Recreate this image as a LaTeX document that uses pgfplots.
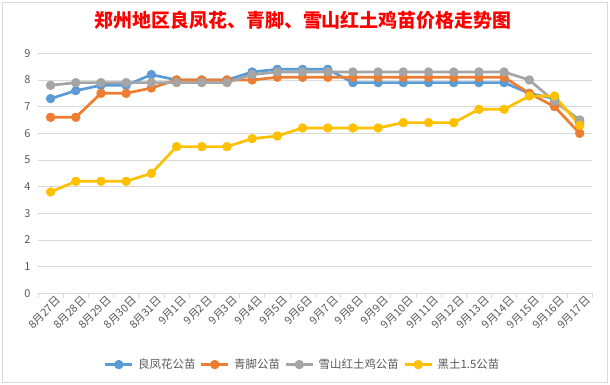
\documentclass[border=0pt]{standalone}
\usepackage{pgfplots}
\pgfplotsset{compat=1.18}
\usepackage{fontspec}
\setmainfont{Noto Sans CJK SC}
\definecolor{cblue}{HTML}{5B9BD5}
\definecolor{corange}{HTML}{ED7D31}
\definecolor{cgray}{HTML}{A5A5A5}
\definecolor{cyellow}{HTML}{FFC000}
\definecolor{gridc}{HTML}{D9D9D9}
\definecolor{labc}{HTML}{595959}
\begin{document}
\begin{tikzpicture}
\path[use as bounding box] (0bp,0bp) rectangle (610bp,385bp);
\draw[color=gridc, line width=0.8bp] (2.5bp,3bp) rectangle (607.5bp,382.5bp);
\node[font=\fontsize{19}{22}\selectfont\bfseries, text=red] at (303bp,365bp) {郑州地区良凤花、青脚、雪山红土鸡苗价格走势图};
\begin{axis}[
  at={(38bp,91.7bp)}, anchor=south west,
  scale only axis, width=554.3bp, height=240bp,
  xmin=-0.5, xmax=21.5, ymin=0, ymax=9,
  axis x line*=bottom, axis y line*=left,
  y axis line style={draw=none},
  x axis line style={draw=gridc, line width=0.8bp, -},
  ymajorgrids, grid style={draw=gridc, line width=0.8bp},
  xtick={0,...,21},
  xticklabels={8月27日,8月28日,8月29日,8月30日,8月31日,9月1日,9月2日,9月3日,9月4日,9月5日,9月6日,9月7日,9月8日,9月9日,9月10日,9月11日,9月12日,9月13日,9月14日,9月15日,9月16日,9月17日},
  minor xtick={-0.5,0.5,...,21.5},
  ytick={0,...,9},
  major tick length=0pt, minor tick length=5bp,
  tick align=outside,
  minor tick style={draw=gridc, line width=0.8bp},
  xticklabel style={rotate=45, anchor=north east, font=\fontsize{11}{13}\selectfont, text=labc, inner sep=0.5bp, yshift=-4bp, xshift=3bp},
  yticklabel style={font=\fontsize{11}{13}\selectfont, text=labc, xshift=-4bp},
  /pgf/number format/assume math mode=true,
  clip=false,
  every axis plot/.append style={line width=2.7bp, mark=*, mark size=3.3bp, line join=round, mark options={solid}},
  legend columns=4,
  legend style={at={(0.477,-0.297)}, anchor=center, draw=none, fill=none, font=\fontsize{11.5}{13}\selectfont, text=labc, column sep=3bp, inner sep=0bp, nodes={inner sep=1.5bp}},
  legend image code/.code={\draw[mark repeat=2,mark phase=2,#1] plot coordinates {(0bp,0bp) (13.5bp,0bp) (27bp,0bp)};},
]
\addplot[color=cblue] coordinates {(0,7.3)(1,7.6)(2,7.8)(3,7.8)(4,8.2)(5,8.0)(6,8.0)(7,8.0)(8,8.3)(9,8.4)(10,8.4)(11,8.4)(12,7.9)(13,7.9)(14,7.9)(15,7.9)(16,7.9)(17,7.9)(18,7.9)(19,7.5)(20,7.3)(21,6.4)};
\addlegendentry{良凤花公苗}
\addplot[color=corange] coordinates {(0,6.6)(1,6.6)(2,7.5)(3,7.5)(4,7.7)(5,8.0)(6,8.0)(7,8.0)(8,8.0)(9,8.1)(10,8.1)(11,8.1)(12,8.1)(13,8.1)(14,8.1)(15,8.1)(16,8.1)(17,8.1)(18,8.1)(19,7.5)(20,7.0)(21,6.0)};
\addlegendentry{青脚公苗}
\addplot[color=cgray] coordinates {(0,7.8)(1,7.9)(2,7.9)(3,7.9)(4,7.9)(5,7.9)(6,7.9)(7,7.9)(8,8.2)(9,8.3)(10,8.3)(11,8.3)(12,8.3)(13,8.3)(14,8.3)(15,8.3)(16,8.3)(17,8.3)(18,8.3)(19,8.0)(20,7.2)(21,6.5)};
\addlegendentry{雪山红土鸡公苗}
\addplot[color=cyellow] coordinates {(0,3.8)(1,4.2)(2,4.2)(3,4.2)(4,4.5)(5,5.5)(6,5.5)(7,5.5)(8,5.8)(9,5.9)(10,6.2)(11,6.2)(12,6.2)(13,6.2)(14,6.4)(15,6.4)(16,6.4)(17,6.9)(18,6.9)(19,7.4)(20,7.4)(21,6.3)};
\addlegendentry{黑土1.5公苗}
\end{axis}
\end{tikzpicture}
\end{document}
